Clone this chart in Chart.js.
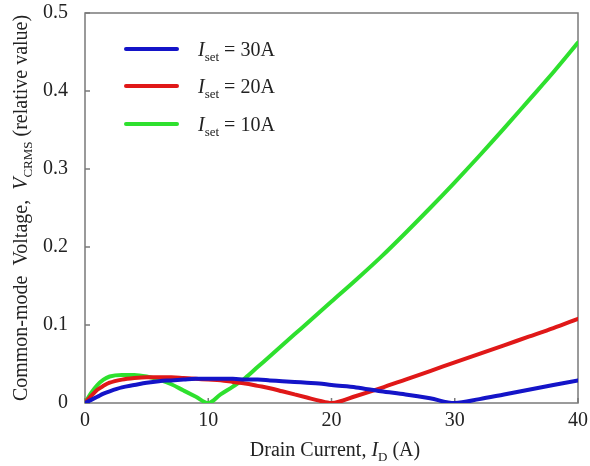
<!DOCTYPE html>
<html>
<head>
<meta charset="utf-8">
<script src="https://cdn.jsdelivr.net/npm/chart.js"></script>
<style>
html, body { margin: 0; padding: 0; background: #fff; }
#wrap { width: 590px; height: 466px; }
</style>
</head>
<body>
<div id="wrap"><canvas id="myChart"></canvas></div>
<script>
// drain current I_D (A)
var drainCurrent = [0, 0.5, 1, 1.5, 2, 3, 4, 5, 6, 7, 8, 9, 10, 11, 12, 13, 14, 15, 16, 17, 18, 19, 20,
                    22, 24, 26, 28, 30, 32, 34, 36, 38, 40];

// common-mode voltage V_CRMS (relative value), one list per set current
var vSet30 = [0, 0.004, 0.008, 0.012, 0.015, 0.020, 0.023, 0.026, 0.028, 0.029, 0.030, 0.031, 0.031, 0.031, 0.031,
              0.030, 0.030, 0.029, 0.028, 0.027, 0.026, 0.025, 0.023,
              0.020, 0.015, 0.011, 0.006, 0, 0.005, 0.011, 0.017, 0.023, 0.029];
var vSet20 = [0, 0.009, 0.017, 0.022, 0.026, 0.030, 0.032, 0.033, 0.033, 0.033, 0.032, 0.031, 0.030, 0.029, 0.027,
              0.025, 0.022, 0.019, 0.015, 0.011, 0.007, 0.003, 0,
              0.009, 0.019, 0.030, 0.041, 0.052, 0.063, 0.074, 0.085, 0.096, 0.108];
var vSet10 = [0, 0.013, 0.023, 0.030, 0.034, 0.036, 0.036, 0.034, 0.030, 0.024, 0.016, 0.008, 0, 0.011, 0.021,
              0.032, 0.046, 0.060, 0.074, 0.088, 0.102, 0.116, 0.130,
              0.158, 0.187, 0.218, 0.250, 0.283, 0.317, 0.352, 0.388, 0.424, 0.462];

var setLabels = ['30A', '20A', '10A'];
var lineColors = ['#1414c8', '#e01818', '#2ee02e'];

var serif = '"Liberation Serif", "Times New Roman", serif';
var axisGray = '#7a7a7a';
var fontSize = 20;

function toPoints(ys) {
  return ys.map(function (y, i) { return { x: drainCurrent[i], y: y }; });
}

function fontFor(p, size) {
  return (p.italic ? 'italic ' : '') + (p.sub ? Math.round(size * 0.66) : size) + 'px ' + serif;
}

// draws text runs with italics / subscripts; x is left edge or centre
function drawRich(ctx, parts, x, y, size, center) {
  var total = 0;
  parts.forEach(function (p) {
    ctx.font = fontFor(p, size);
    p.w = ctx.measureText(p.t).width;
    total += p.w;
  });
  var cx = center ? x - total / 2 : x;
  parts.forEach(function (p) {
    ctx.font = fontFor(p, size);
    ctx.fillText(p.t, cx, y + (p.sub ? size * 0.25 : 0));
    cx += p.w;
  });
}

var framePlugin = {
  id: 'frame',
  beforeDatasetsDraw: function (chart) {
    var ctx = chart.ctx, a = chart.chartArea;
    var xs = chart.scales.x, ys = chart.scales.y;
    ctx.save();
    ctx.strokeStyle = axisGray;
    ctx.lineWidth = 1.5;
    ctx.strokeRect(a.left, a.top, a.right - a.left, a.bottom - a.top);
    ctx.beginPath();
    xs.ticks.forEach(function (t) {
      var px = xs.getPixelForValue(t.value);
      ctx.moveTo(px, a.bottom);
      ctx.lineTo(px, a.bottom - 5);
    });
    ys.ticks.forEach(function (t) {
      var py = ys.getPixelForValue(t.value);
      ctx.moveTo(a.left, py);
      ctx.lineTo(a.left + 5, py);
    });
    ctx.stroke();
    ctx.restore();
  },
  afterDraw: function (chart) {
    var ctx = chart.ctx;
    ctx.save();
    ctx.fillStyle = '#222';
    ctx.textBaseline = 'alphabetic';

    // x axis title
    drawRich(ctx, [
      { t: 'Drain Current, ' }, { t: 'I', italic: true }, { t: 'D', sub: true }, { t: ' (A)' }
    ], 335, 456, fontSize, true);

    // y axis title
    ctx.save();
    ctx.translate(27, 208);
    ctx.rotate(-Math.PI / 2);
    drawRich(ctx, [
      { t: 'Common-mode  Voltage,  ' }, { t: 'V', italic: true }, { t: 'CRMS', sub: true }, { t: ' (relative value)' }
    ], 0, 0, fontSize, true);
    ctx.restore();

    // legend
    var rows = [49, 86, 124];
    setLabels.forEach(function (lab, i) {
      ctx.strokeStyle = lineColors[i];
      ctx.lineWidth = 4;
      ctx.lineCap = 'round';
      ctx.beginPath();
      ctx.moveTo(126, rows[i]);
      ctx.lineTo(177, rows[i]);
      ctx.stroke();
      drawRich(ctx, [
        { t: 'I', italic: true }, { t: 'set', sub: true }, { t: ' = ' + lab }
      ], 198, rows[i] + 7, fontSize, false);
    });
    ctx.restore();
  }
};

var element = document.getElementById('myChart').getContext('2d');

var chartData = {
  datasets: [
    { label: 'Iset = 30A', data: toPoints(vSet30), borderColor: lineColors[0] },
    { label: 'Iset = 20A', data: toPoints(vSet20), borderColor: lineColors[1] },
    { label: 'Iset = 10A', data: toPoints(vSet10), borderColor: lineColors[2] }
  ]
};

var chartOptions = {
  responsive: true,
  maintainAspectRatio: false,
  animation: false,
  layout: { padding: { top: 13, right: 12, left: 0, bottom: 0 } },
  elements: {
    point: { radius: 0 },
    line: { borderWidth: 4, cubicInterpolationMode: 'monotone', borderCapStyle: 'round', borderJoinStyle: 'round' }
  },
  plugins: { legend: { display: false }, tooltip: { enabled: false } },
  scales: {
    x: {
      type: 'linear', min: 0, max: 40,
      ticks: { stepSize: 10, padding: 6, color: '#222', font: { family: serif, size: fontSize } },
      grid: { display: false, drawTicks: false },
      border: { display: false },
      afterFit: function (s) { s.height = 63; s.paddingLeft = 0; s.paddingRight = 0; }
    },
    y: {
      min: 0, max: 0.5,
      ticks: {
        stepSize: 0.1, padding: 17, color: '#222', font: { family: serif, size: fontSize },
        callback: function (v) { return v === 0 ? '0' : v.toFixed(1); }
      },
      grid: { display: false, drawTicks: false },
      border: { display: false },
      afterFit: function (s) { s.width = 85; s.paddingTop = 0; s.paddingBottom = 0; }
    }
  }
};

var chart = new Chart(element, { type: 'line', data: chartData, options: chartOptions, plugins: [framePlugin] });
</script>
</body>
</html>
